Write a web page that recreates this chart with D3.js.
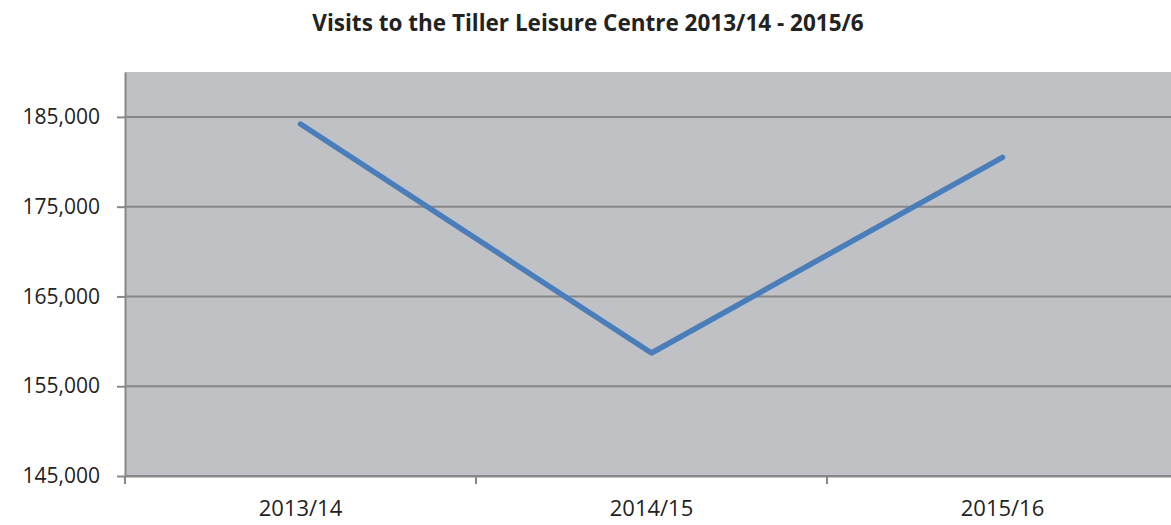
<!DOCTYPE html>
<html>
<head>
<meta charset="utf-8">
<script src="https://cdn.jsdelivr.net/npm/d3@7"></script>
<style>
  body { margin: 0; background: #fff; }
  svg text { font-family: "Open Sans", "Liberation Sans", sans-serif; fill: #222; }
</style>
</head>
<body>
<script>
// Chart data
var years = ["2013/14", "2014/15", "2015/16"];
var visits = [184200, 158700, 180500];
var yTicks = [145000, 155000, 165000, 175000, 185000];

// Plot area
var margin = { top: 72, right: -7, bottom: 49, left: 125 },
  width = 1171 - margin.left - margin.right,
  height = 525 - margin.top - margin.bottom;

var svg = d3.select("body").append("svg")
  .attr("width", 1171)
  .attr("height", 525);

var g = svg.append("g")
  .attr("transform", "translate(" + margin.left + "," + margin.top + ")");

var x = d3.scaleBand().domain(years).range([0, width]);
var y = d3.scaleLinear().domain([145000, 190000]).range([height, 0]);

// background
g.append("rect")
  .attr("width", width)
  .attr("height", height)
  .attr("fill", "#c0c1c5");

// gridlines
g.selectAll(".grid")
  .data(yTicks)
  .enter().append("line")
  .attr("x1", 0)
  .attr("x2", width)
  .attr("y1", function (d) { return y(d); })
  .attr("y2", function (d) { return y(d); })
  .attr("stroke", "#878787")
  .attr("stroke-width", 2);

// y axis
var yAxis = g.append("g")
  .call(d3.axisLeft(y).tickValues(yTicks).tickSizeInner(8).tickSizeOuter(0)
    .tickPadding(17).tickFormat(d3.format(",")));
yAxis.select(".domain").attr("stroke", "#878787").attr("stroke-width", 2);
yAxis.selectAll(".tick line").attr("stroke", "#878787").attr("stroke-width", 2);
yAxis.selectAll("text").style("font-size", "21px").attr("fill", "#222");

// x axis, ticks drawn at band edges below
var xAxis = g.append("g")
  .attr("transform", "translate(0," + height + ")")
  .call(d3.axisBottom(x).tickSizeInner(0).tickSizeOuter(0).tickPadding(24));
xAxis.select(".domain").attr("stroke", "#878787").attr("stroke-width", 2);
xAxis.selectAll("text").style("font-size", "22px").attr("fill", "#222");

g.selectAll(".xtick")
  .data(years)
  .enter().append("line")
  .attr("x1", function (d) { return x(d); })
  .attr("x2", function (d) { return x(d); })
  .attr("y1", height)
  .attr("y2", height + 8)
  .attr("stroke", "#878787")
  .attr("stroke-width", 2);

// the line
var line = d3.line()
  .x(function (d, i) { return x(years[i]) + x.bandwidth() / 2; })
  .y(function (d) { return y(d); });

g.append("path")
  .datum(visits)
  .attr("d", line)
  .attr("fill", "none")
  .attr("stroke", "#4a7ebb")
  .attr("stroke-width", 5.5)
  .attr("stroke-linecap", "round")
  .attr("stroke-linejoin", "round");

// title
svg.append("text")
  .attr("x", 588)
  .attr("y", 31)
  .attr("text-anchor", "middle")
  .style("font-size", "22.5px")
  .style("font-weight", "bold")
  .text("Visits to the Tiller Leisure Centre 2013/14 - 2015/6");
</script>
</body>
</html>
